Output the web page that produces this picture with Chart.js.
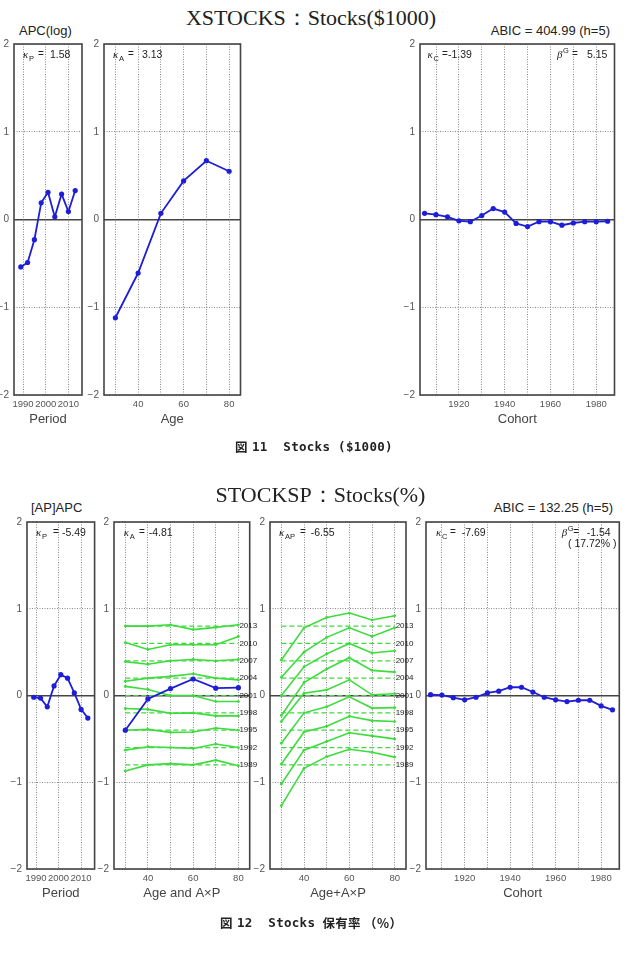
<!DOCTYPE html>
<html>
<head>
<meta charset="utf-8">
<script src="https://cdn.jsdelivr.net/npm/chart.js@4.4.0/dist/chart.umd.min.js"></script>
<style>
  body { margin: 0; background: #fff; }
  #page { position: relative; width: 624px; height: 972px; overflow: hidden; font-family: "Liberation Sans", Arial, sans-serif; }
  canvas { position: absolute; }
  .txt { position: absolute; white-space: pre; line-height: 1; color: #222; }
</style>
</head>
<body>
<div id="page"></div>
<script>
// ---- data ----
const periods = [1989, 1992, 1995, 1998, 2001, 2004, 2007, 2010, 2013];
const ages = [30, 40, 50, 60, 70, 80];
const cohorts = [1905, 1910, 1915, 1920, 1925, 1930, 1935, 1940, 1945, 1950, 1955, 1960, 1965, 1970, 1975, 1980, 1985];

// grid positions and the ones that carry a label
const periodGrid = [1990, 2000, 2010];
const ageGrid = [30, 40, 50, 60, 70, 80];
const cohortGrid = [1910, 1920, 1930, 1940, 1950, 1960, 1970, 1980];
const periodTickLabels = [1990, 2000, 2010];
const ageTickLabels = [40, 60, 80];
const cohortTickLabels = [1920, 1940, 1960, 1980];

// fig 11: XSTOCKS
const xsPeriod = [-0.54, -0.49, -0.23, 0.19, 0.31, 0.03, 0.29, 0.09, 0.33];
const xsAge = [-1.12, -0.61, 0.07, 0.44, 0.67, 0.55];
const xsCohort = [0.07, 0.055, 0.03, -0.015, -0.025, 0.045, 0.125, 0.085, -0.045, -0.08, -0.025, -0.025, -0.065, -0.04, -0.025, -0.025, -0.02];

// fig 12: STOCKSP
const spPeriod = [-0.02, -0.03, -0.13, 0.11, 0.24, 0.20, 0.03, -0.16, -0.26];
const spAge = [-0.40, -0.04, 0.08, 0.19, 0.085, 0.09];
const spCohort = [0.01, 0.005, -0.025, -0.05, -0.02, 0.03, 0.05, 0.095, 0.095, 0.04, -0.02, -0.05, -0.07, -0.055, -0.055, -0.12, -0.165];
const periodOffsets = [-0.8, -0.6, -0.4, -0.2, 0, 0.2, 0.4, 0.6, 0.8];

// A x P lines (shifted by period offset), one row per period
const spAxP = [
  [-0.87, -0.80, -0.785, -0.80, -0.745, -0.81],
  [-0.63, -0.59, -0.60, -0.61, -0.56, -0.60],
  [-0.40, -0.39, -0.425, -0.42, -0.375, -0.40],
  [-0.15, -0.16, -0.205, -0.20, -0.235, -0.235],
  [0.105, 0.07, 0.0, 0.0, -0.07, -0.07],
  [0.165, 0.20, 0.22, 0.25, 0.20, 0.18],
  [0.39, 0.36, 0.40, 0.415, 0.40, 0.415],
  [0.61, 0.53, 0.585, 0.585, 0.585, 0.68],
  [0.80, 0.80, 0.815, 0.76, 0.785, 0.815]
];
// Age + A x P lines
const spAgeAxP = [
  [-1.27, -0.84, -0.705, -0.62, -0.655, -0.71],
  [-1.02, -0.63, -0.53, -0.43, -0.465, -0.50],
  [-0.79, -0.42, -0.355, -0.24, -0.29, -0.30],
  [-0.55, -0.20, -0.13, -0.015, -0.145, -0.14],
  [-0.30, 0.027, 0.065, 0.18, 0.008, 0.02],
  [-0.23, 0.15, 0.305, 0.435, 0.29, 0.27],
  [0.00, 0.33, 0.48, 0.60, 0.49, 0.515],
  [0.21, 0.50, 0.67, 0.78, 0.68, 0.78],
  [0.41, 0.78, 0.90, 0.95, 0.87, 0.92]
];

// ---- drawing ----
const page = document.getElementById('page');
const BLUE = '#1e1ed8', GREEN = '#3ddc3d';
const YW = 22, PT = 8, PR = 12, XH = 32;
const FONT = '"Liberation Sans", Arial, sans-serif';
const MONO = 'font: bold 12.5px "DejaVu Sans Mono", monospace; letter-spacing: 0.3px;';
const CJK = 'font: bold 12.5px "Noto Sans CJK JP", sans-serif; letter-spacing: 0.3px;';

function text(str, x, y, align, css) {
  const d = document.createElement('div');
  d.className = 'txt';
  d.textContent = str;
  d.style.cssText += css || '';
  d.style.top = y + 'px';
  if (align === 'center') { d.style.left = x + 'px'; d.style.transform = 'translate(-50%,-50%)'; }
  else if (align === 'right') { d.style.right = (624 - x) + 'px'; d.style.transform = 'translateY(-50%)'; }
  else { d.style.left = x + 'px'; d.style.transform = 'translateY(-50%)'; }
  page.appendChild(d);
}

const framePlugin = {
  id: 'frame',
  afterDraw(chart) {
    const { ctx, chartArea: a } = chart;
    ctx.save();
    ctx.strokeStyle = '#444';
    ctx.lineWidth = 1.6;
    ctx.strokeRect(a.left, a.top, a.right - a.left, a.bottom - a.top);
    ctx.restore();
  }
};

function notesPlugin(notes, tags) {
  return {
    id: 'notes',
    afterDraw(chart) {
      const { ctx, chartArea: a, scales } = chart;
      ctx.save();
      ctx.fillStyle = '#222';
      (notes || []).forEach(n => {
        const y = a.top + n.y;
        ctx.textBaseline = 'alphabetic';
        ctx.font = 'italic 11px "Liberation Serif"';
        ctx.fillText(n.sym, a.left + n.x, y);
        ctx.font = '7.5px ' + FONT;
        ctx.fillText(n.sub, a.left + n.x + 6, y + (n.sup ? -5 : 3));
        ctx.font = '10px ' + FONT;
        ctx.fillText('=', a.left + n.eqX, y - 1);
        ctx.font = '10.5px ' + FONT;
        ctx.fillText(n.val, a.left + n.valX, y);
        if (n.line2) ctx.fillText(n.line2, a.left + n.l2X, y + 11);
      });
      if (tags) {
        ctx.font = '8px ' + FONT;
        ctx.textBaseline = 'middle';
        const x = scales.x.getPixelForValue(ages[ages.length - 1]) + 1;
        tags.offsets.forEach((o, i) => ctx.fillText(String(tags.labels[i]), x, scales.y.getPixelForValue(o)));
      }
      ctx.restore();
    }
  };
}

function pts(xs, ys) { return xs.map((x, i) => ({ x: x, y: ys[i] })); }

function blueSet(xs, ys) {
  return { data: pts(xs, ys), borderColor: BLUE, backgroundColor: BLUE, borderWidth: 1.8, pointRadius: 2.6, pointBorderWidth: 0 };
}
function greenSet(ys) {
  return { data: pts(ages, ys), borderColor: GREEN, backgroundColor: GREEN, borderWidth: 1.6, pointRadius: 1.4, pointBorderWidth: 0 };
}
function dashSet(level) {
  return { data: pts(ages, ages.map(() => level)), borderColor: GREEN, borderWidth: 1.2, borderDash: [5, 3], pointRadius: 0 };
}

function panel(box, xr, title, grid, tickLabels, datasets, notes, tags) {
  const cv = document.createElement('canvas');
  const w = Math.round(box.r - box.l + YW + PR), h = Math.round(box.b - box.t + PT + XH);
  cv.width = w; cv.height = h;
  cv.style.width = w + 'px'; cv.style.height = h + 'px';
  cv.style.left = (box.l - YW) + 'px';
  cv.style.top = (box.t - PT) + 'px';
  page.appendChild(cv);
  const isZero = c => c.tick && c.tick.value === 0;
  new Chart(cv, {
    type: 'line',
    data: { datasets: datasets },
    options: {
      responsive: false, animation: false, devicePixelRatio: 1,
      layout: { padding: { top: PT, right: w - (box.r - box.l) - YW, left: 0, bottom: 0 } },
      plugins: { legend: { display: false }, tooltip: { enabled: false } },
      scales: {
        x: {
          type: 'linear', min: xr[0], max: xr[1],
          afterBuildTicks: s => { s.ticks = grid.map(v => ({ value: v })); },
          afterFit: s => { s.height = XH; },
          ticks: {
            autoSkip: false, maxRotation: 0, padding: 4,
            color: '#555', font: { size: 9.5, family: FONT },
            callback: v => tickLabels.includes(v) ? String(v) : ''
          },
          grid: { color: '#8a8a8a', lineWidth: 1, drawTicks: false },
          border: { display: false, dash: [1, 1.5] },
          title: { display: true, text: title, color: '#444', font: { size: 13, family: FONT }, padding: 0 }
        },
        y: {
          min: -2, max: 2,
          afterFit: s => { s.width = YW; },
          ticks: {
            stepSize: 1, padding: 5, color: '#555', font: { size: 10, family: FONT },
            callback: v => String(v).replace('-', '\u2212')
          },
          grid: {
            drawTicks: false,
            color: c => isZero(c) ? '#444' : '#8a8a8a',
            lineWidth: c => isZero(c) ? 1.5 : 1
          },
          border: { display: false, dash: c => isZero(c) ? [] : [1, 1.5] }
        }
      }
    },
    plugins: [framePlugin, notesPlugin(notes, tags)]
  });
}

// ---- figure 11 ----
text('XSTOCKS\uFF1AStocks($1000)', 311, 18, 'center', 'font: 22px "Liberation Serif", serif;');
text('APC(log)', 19, 30, 'left', 'font: 13px ' + FONT + ';');
text('ABIC = 404.99 (h=5)', 610, 30, 'right', 'font: 13px ' + FONT + ';');

const top1 = { t: 40.5, b: 394 };
panel({ l: 14, r: 82, t: top1.t, b: top1.b }, [1986, 2016], 'Period', periodGrid, periodTickLabels,
  [blueSet(periods, xsPeriod)],
  [{ x: 9, y: 14, sym: 'κ', sub: 'P', eqX: 24, val: '1.58', valX: 36 }]);
panel({ l: 103.5, r: 240, t: top1.t, b: top1.b }, [25, 85], 'Age', ageGrid, ageTickLabels,
  [blueSet(ages, xsAge)],
  [{ x: 9, y: 14, sym: 'κ', sub: 'A', eqX: 24, val: '3.13', valX: 38 }]);
panel({ l: 419.5, r: 614, t: top1.t, b: top1.b }, [1903, 1988], 'Cohort', cohortGrid, cohortTickLabels,
  [blueSet(cohorts, xsCohort)],
  [{ x: 7.5, y: 14, sym: 'κ', sub: 'C', eqX: 22, val: '-1.39', valX: 28 },
   { x: 137, y: 14, sym: 'β', sub: 'G', sup: true, eqX: 152, val: '5.15', valX: 167 }]);

text('\u56F3', 235, 446, 'left', CJK);
text('11  Stocks ($1000)', 252, 446, 'left', MONO);

// ---- figure 12 ----
text('STOCKSP\uFF1AStocks(%)', 320.5, 495, 'center', 'font: 22px "Liberation Serif", serif;');
text('[AP]APC', 31, 507, 'left', 'font: 13px ' + FONT + ';');
text('ABIC = 132.25 (h=5)', 613, 507, 'right', 'font: 13px ' + FONT + ';');

const top2 = { t: 518.5, b: 868.5 };
const tags = { offsets: periodOffsets, labels: periods };
panel({ l: 26.7, r: 94.3, t: top2.t, b: top2.b }, [1986, 2016], 'Period', periodGrid, periodTickLabels,
  [blueSet(periods, spPeriod)],
  [{ x: 9, y: 13.5, sym: 'κ', sub: 'P', eqX: 26, val: '-5.49', valX: 35 }]);
panel({ l: 114.3, r: 250, t: top2.t, b: top2.b }, [25, 85], 'Age and A\u00D7P', ageGrid, ageTickLabels,
  [blueSet(ages, spAge)].concat(spAxP.map(greenSet), periodOffsets.map(dashSet)),
  [{ x: 9.7, y: 13.5, sym: 'κ', sub: 'A', eqX: 25, val: '-4.81', valX: 34.7 }], tags);
panel({ l: 270, r: 406, t: top2.t, b: top2.b }, [25, 85], 'Age+A\u00D7P', ageGrid, ageTickLabels,
  spAgeAxP.map(greenSet).concat(periodOffsets.map(dashSet)),
  [{ x: 9, y: 13.5, sym: 'κ', sub: 'AP', eqX: 30, val: '-6.55', valX: 40.7 }], tags);
panel({ l: 426, r: 619.3, t: top2.t, b: top2.b }, [1903, 1988], 'Cohort', cohortGrid, cohortTickLabels,
  [blueSet(cohorts, spCohort)],
  [{ x: 10, y: 13.5, sym: 'κ', sub: 'C', eqX: 24, val: '-7.69', valX: 35.7 },
   { x: 135.7, y: 13.5, sym: 'β', sub: 'G', sup: true, eqX: 147.3, val: '-1.54', valX: 160.7, line2: '( 17.72% )', l2X: 142 }]);

text('\u56F3', 220, 922, 'left', CJK);
text('12  Stocks', 237, 922, 'left', MONO);
text('\u4FDD\u6709\u7387', 322.5, 922, 'left', CJK);
text('\uFF08\uFF05\uFF09', 364, 922, 'left', CJK);
</script>
</body>
</html>
